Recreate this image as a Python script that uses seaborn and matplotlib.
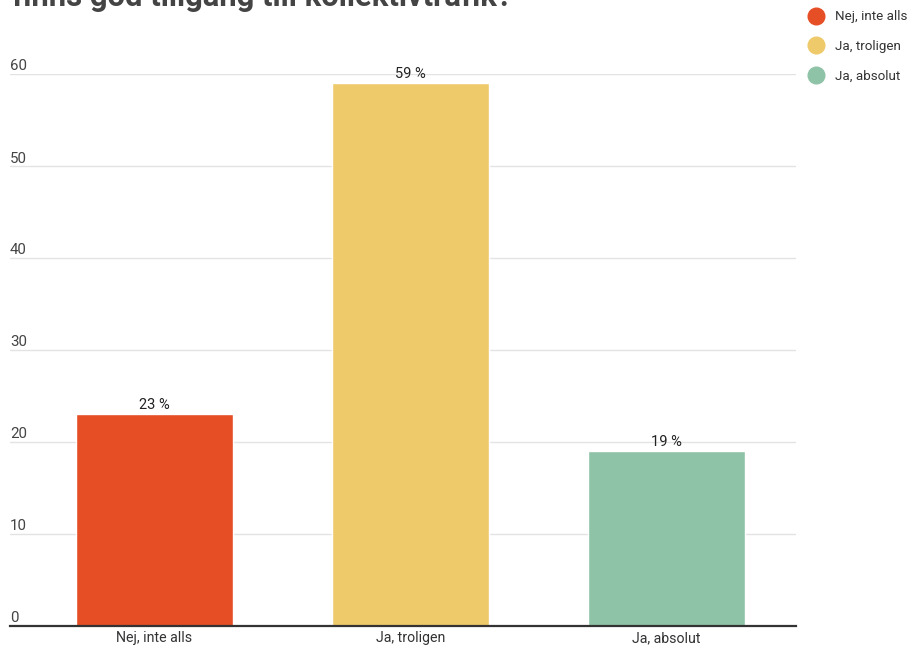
import matplotlib
matplotlib.use("Agg")
import matplotlib.pyplot as plt
from matplotlib.lines import Line2D
from matplotlib.transforms import blended_transform_factory
import seaborn as sns
import pandas as pd

# Survey answers and their shares (percent)
categories = ["Nej, inte alls", "Ja, troligen", "Ja, absolut"]
values = [23, 59, 19]
colors = ["#E64F25", "#EECA6B", "#8FC3A7"]
yticks = [0, 10, 20, 30, 40, 50, 60]
title = "finns god tillgång till kollektivtrafik?"

sns.set_theme(style="white")
plt.rcParams["font.family"] = ["Roboto", "DejaVu Sans"]

df = pd.DataFrame({"svar": categories, "andel": values})

W, H = 908, 646
fig = plt.figure(figsize=(W / 100, H / 100), dpi=100)
ax = fig.add_axes([10 / W, (H - 625.5) / H, 786 / W, 552 / H])

sns.barplot(data=df, x="svar", y="andel", hue="svar", palette=colors,
            order=categories, hue_order=categories, width=0.613,
            saturation=1, legend=False, ax=ax)

ax.set_ylim(0, 60)
ax.set_xlim(-144.5 / 256, 2 + 129.5 / 256)
ax.set_xlabel("")
ax.set_ylabel("")
for s in ["top", "right", "left"]:
    ax.spines[s].set_visible(False)
ax.spines["bottom"].set_color("#333333")
ax.spines["bottom"].set_linewidth(1.6)
ax.spines["bottom"].set_zorder(5)

# horizontal gridlines with labels sitting just above them
ax.set_yticks(yticks)
ax.set_yticklabels([])
ax.tick_params(axis="y", length=0)
trans = blended_transform_factory(ax.transAxes, ax.transData)
for t in yticks:
    if t > 0:
        ax.axhline(t, color="#E3E3E3", lw=1.0, zorder=0)
    ax.text(0.0, t, str(t), transform=trans, ha="left", va="bottom",
            fontsize=10.8, color="#444444")

ax.tick_params(axis="x", length=0, pad=4, labelsize=10.2, labelcolor="#333333")

for container in ax.containers:
    labels = [f"{int(round(b.get_height()))} %" for b in container]
    ax.bar_label(container, labels=labels, padding=1.5, fontsize=10.5,
                 color="#222222", clip_on=False)

# legend with round markers
handles = [Line2D([0], [0], marker="o", linestyle="", markersize=12,
                  markerfacecolor=c, markeredgecolor=c) for c in colors]
fig.legend(handles, categories, loc="upper left",
           bbox_to_anchor=(801 / W, 1 - 5 / H), frameon=False,
           fontsize=9.6, handletextpad=0.75, labelspacing=1.25,
           borderaxespad=0, handlelength=1.4, labelcolor="#333333")

fig.text(12 / W, 1 - 6.5 / H, title, ha="left", va="baseline",
         fontsize=22.3, fontweight="bold", color="#444444")

fig.savefig("out.png", dpi=100)
